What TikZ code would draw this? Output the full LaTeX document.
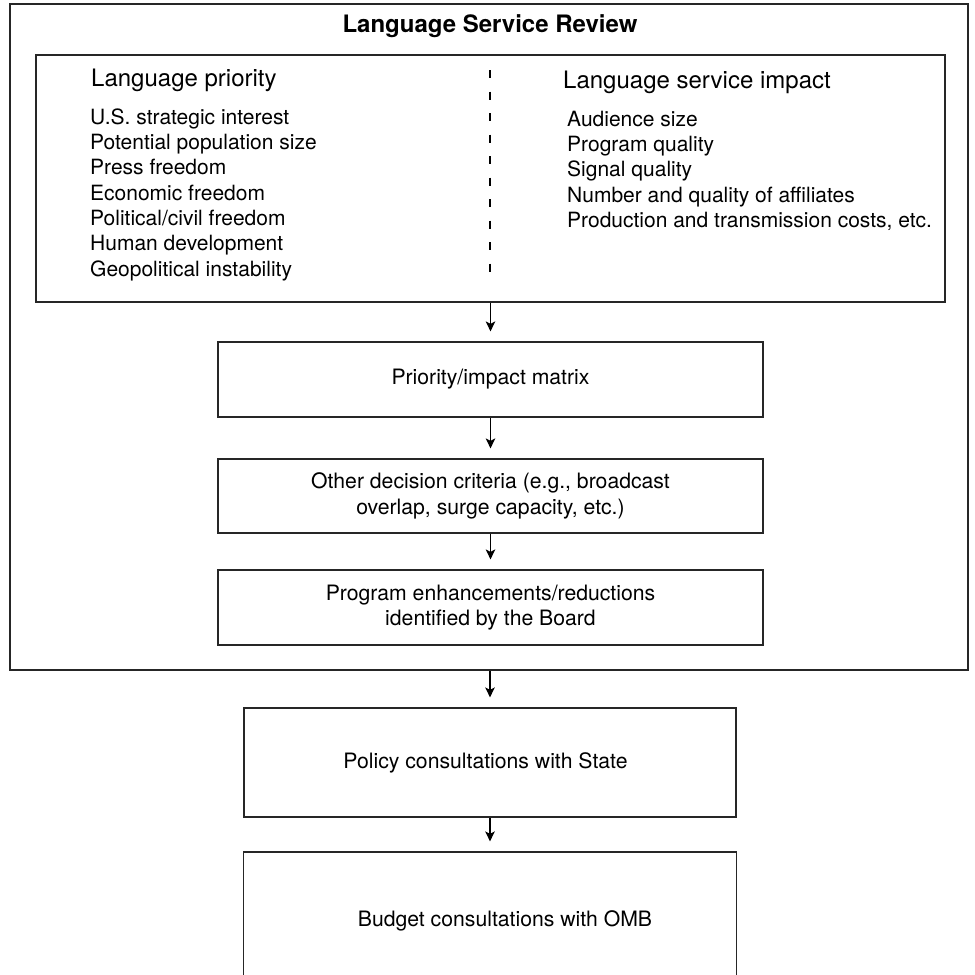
\documentclass[tikz,border=0pt]{standalone}
\usepackage{fontspec}
\setmainfont{TeX Gyre Heros}
\usetikzlibrary{arrows.meta}

\begin{document}
\begin{tikzpicture}[x=1pt, y=-1pt, >={Stealth[length=10pt, width=9.5pt, inset=2.5pt]},
        box/.style={draw=black!85, line width=1.2pt, inner sep=0pt, align=center,
                    font=\fontsize{21.2}{25.3}\selectfont},
        boxtext/.style={inner sep=0pt, font=\fontsize{21.2}{25.3}\selectfont},
        head/.style={anchor=base west, inner sep=0pt, font=\fontsize{24}{28}\selectfont},
        items/.style={anchor=north west, inner sep=0pt, align=left,
                      font=\fontsize{21}{25.3}\selectfont},
        link/.style={->, line width=1.2pt, shorten >=10pt}]

    \useasboundingbox (0,0) rectangle (975,975);
    \fill[white] (0,0) rectangle (975,975);
    \clip (0,0) rectangle (975,975);

    % --- ramka przeglądu ---
    \node[box, minimum width=958, minimum height=666] (review) at (489,337) {};
    \node[anchor=base, inner sep=0pt, font=\bfseries\fontsize{24}{28}\selectfont] (title) at (490,32) {Language Service Review};

    % --- kryteria ---
    \node[box, minimum width=909, minimum height=247] (priorbox) at (490.5,178.5) {};
    \coordinate (divtop) at (490,70);
    \coordinate (divbot) at (490,272);
    \draw[line width=2pt, dash pattern=on 8pt off 13.5pt] (divtop) -- (divbot);

    \node[head] (prioh) at (91,86) {Language priority};
    \node[items] (prioitems) at (90,106.3) {\strut U.S. strategic interest\\Potential population size\\Press freedom\\Economic freedom\\Political/civil freedom\\Human development\\Geopolitical instability};

    \node[head] (impacth) at (563,88) {Language service impact};
    \node[items] (impactitems) at (567,108.3) {\strut Audience size\\Program quality\\Signal quality\\Number and quality of affiliates\\Production and transmission costs, etc.};

    % --- kolejne etapy ---
    \node[box, minimum width=545, minimum height=75] (matrixbox) at (490.5,379.5) {Priority/impact matrix};
    \node[box, minimum width=545, minimum height=74] (criteriabox) at (490.5,496) {Other decision criteria (e.g., broadcast\\overlap, surge capacity, etc.)};
    \node[box, minimum width=545, minimum height=75] (boardbox) at (490.5,607.5) {Program enhancements/reductions\\identified by the Board};

    % --- konsultacje ---
    \node[box, minimum width=492, minimum height=109,
          label={[boxtext, xshift=-4.5pt]center:Policy consultations with State}] (policybox) at (490,762.5) {};
    \node[box, minimum width=493, minimum height=136,
          label={[boxtext, xshift=15pt, yshift=-1pt]center:Budget consultations with OMB}] (budgetbox) at (490,920) {};

    % --- strzałki ---
    \draw[link] (priorbox.south) -- (matrixbox);
    \draw[link] (matrixbox) -- (criteriabox);
    \draw[link] (criteriabox) -- (boardbox);
    \draw[link] (review.south -| policybox) -- (policybox);
    \draw[link] (policybox) -- (budgetbox);

\end{tikzpicture}
\end{document}
